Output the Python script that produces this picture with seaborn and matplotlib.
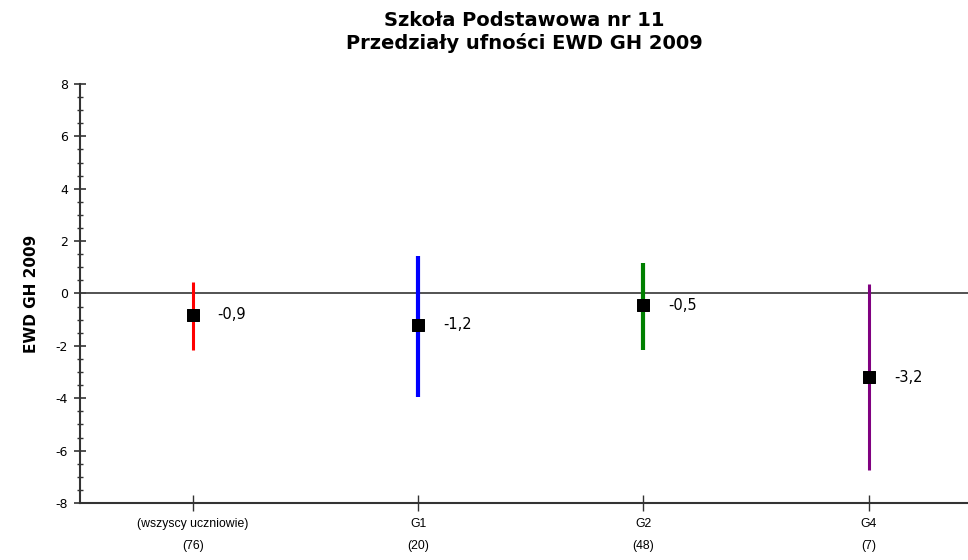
import matplotlib
matplotlib.use("Agg")
import matplotlib.pyplot as plt
import seaborn as sns
import pandas as pd
from matplotlib.ticker import MultipleLocator

groups = ["(wszyscy uczniowie)", "G1", "G2", "G4"]
counts = [76, 20, 48, 7]
means = [-0.82, -1.2, -0.45, -3.2]
labels = ["-0,9", "-1,2", "-0,5", "-3,2"]
lower = [-2.15, -3.95, -2.15, -6.75]
upper = [0.45, 1.45, 1.15, 0.35]
colors = ["#ff0000", "#0000ff", "#008000", "#800080"]
widths = [2.2, 3.0, 3.0, 2.2]

df = pd.DataFrame({"group": groups, "mean": means, "lo": lower, "hi": upper})
df["pos"] = range(len(df))

sns.set_style("white")
plt.rcParams["font.family"] = ["DejaVu Sans"]
plt.rcParams["axes.unicode_minus"] = False
plt.rcParams["text.color"] = "black"
plt.rcParams["axes.labelcolor"] = "black"

fig = plt.figure(figsize=(9.68, 5.6), dpi=100)
ax = fig.add_axes([0.0826, 0.1018, 0.9174, 0.7482])

ax.axhline(0, color="#444444", lw=1.3, zorder=1)
for i, row in df.iterrows():
    ax.vlines(row["pos"], row["lo"], row["hi"], color=colors[i], lw=widths[i], zorder=2)

sns.scatterplot(data=df, x="pos", y="mean", marker="s", s=80, color="black",
                edgecolor="black", zorder=3, ax=ax, legend=False)

for i, row in df.iterrows():
    ax.annotate(labels[i], (row["pos"], row["mean"]), xytext=(18, 0),
                textcoords="offset points", va="center", ha="left", fontsize=10.5)

ax.set_xlim(-0.5, 3.44)
ax.set_ylim(-8, 8)
ax.set_xticks(df["pos"])
ax.set_xticklabels([f"{g}\n({c})" for g, c in zip(groups, counts)],
                   fontsize=8.8, family="Liberation Sans", linespacing=2.2)
ax.yaxis.set_major_locator(MultipleLocator(2))
ax.yaxis.set_minor_locator(MultipleLocator(0.5))
ax.tick_params(axis="y", which="major", direction="inout", length=9, width=1.2,
               labelsize=9, color="#333333", labelcolor="black", pad=4, left=True)
ax.tick_params(axis="y", which="minor", direction="inout", length=5, width=1.0,
               color="#333333", left=True)
ax.tick_params(axis="x", which="major", direction="inout", length=11, width=1.0,
               color="#333333", labelcolor="black", pad=5, bottom=True)

for s in ["top", "right"]:
    ax.spines[s].set_visible(False)
for s in ["left", "bottom"]:
    ax.spines[s].set_color("#333333")
    ax.spines[s].set_linewidth(1.5)

ax.set_xlabel("")
ax.set_ylabel("EWD GH 2009", fontsize=11, fontweight="bold", labelpad=12)
ax.set_title("Szkoła Podstawowa nr 11\nPrzedziały ufności EWD GH 2009",
             fontsize=14, fontweight="bold", pad=25, linespacing=1.2)

fig.savefig("out.png", dpi=100)
